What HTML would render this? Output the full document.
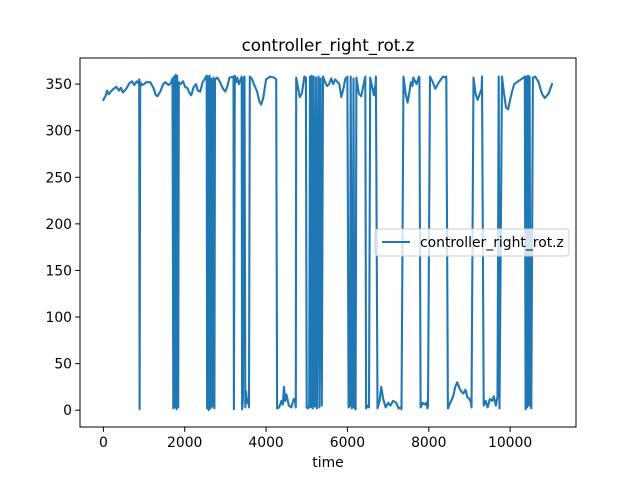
<!DOCTYPE html>
<html><head><meta charset="utf-8"><style>
body{margin:0;background:#fff;font-family:"Liberation Sans","DejaVu Sans",sans-serif;}
svg text{font-family:"DejaVu Sans","Liberation Sans",sans-serif;}
</style></head><body>
<svg id="chart" width="640" height="480" xmlns="http://www.w3.org/2000/svg">
<rect width="640" height="480" fill="#fff"/>
<text x="328" y="51" font-size="16.7" text-anchor="middle">controller_right_rot.z</text>
<g id="plot"></g>
<rect x="80" y="58" width="496" height="369" fill="none" stroke="#000" stroke-width="1"/>
<g id="xt"></g><g id="yt"></g>
<text x="328" y="467" font-size="13.9" text-anchor="middle">time</text>
<g>
<rect x="375" y="229" width="194" height="27" rx="3" fill="#fff" fill-opacity="0.8" stroke="#ccc"/>
<line x1="382" y1="242" x2="410" y2="242" stroke="#1f77b4" stroke-width="2.1"/>
<text x="420" y="247" font-size="13.9">controller_right_rot.z</text>
</g>
</svg>
<script>
const times=[0,60,90,130,180,250,320,380,430,480,560,640,700,760,820,860,880,890,905,950,1000,1050,1150,1230,1290,1330,1400,1470,1520,1600,1660,1700,1720,1735,1760,1775,1800,1815,1840,1855,1900,1960,2010,2060,2110,2160,2220,2280,2320,2380,2440,2500,2540,2550,2565,2590,2610,2635,2650,2680,2695,2710,2730,2745,2800,2870,2940,3000,3050,3100,3200,3210,3230,3260,3290,3330,3400,3410,3430,3450,3470,3490,3510,3530,3560,3580,3600,3650,3700,3780,3830,3880,3930,4000,4100,4200,4250,4270,4320,4380,4410,4440,4470,4500,4560,4620,4680,4710,4730,4740,4790,4830,4880,4940,4980,5000,5030,5060,5080,5100,5120,5150,5170,5200,5230,5250,5290,5310,5340,5370,5400,5450,5500,5550,5600,5650,5700,5800,5850,5900,5950,6000,6030,6060,6080,6110,6130,6150,6170,6200,6220,6280,6340,6400,6440,6460,6500,6530,6560,6620,6650,6690,6700,6740,6790,6830,6880,6940,7000,7060,7120,7200,7260,7320,7330,7380,7430,7480,7520,7560,7600,7620,7700,7760,7770,7800,7850,7900,7940,7970,7980,8030,8100,8160,8250,8350,8420,8430,8470,8530,8600,8650,8700,8750,8800,8850,8900,8950,9000,9040,9050,9100,9150,9200,9300,9310,9350,9400,9450,9500,9560,9600,9650,9680,9690,9720,9740,9800,9850,9900,9950,10000,10050,10100,10200,10330,10360,10380,10400,10420,10440,10460,10480,10500,10520,10560,10620,10700,10780,10850,10950,11030];
const values=[333,338,343,339,342,345,347,343,346,341,345,351,353,349,353,351,355,1,352,349,350,352,352,346,338,337,342,350,352,349,351,356,2,358,3,360,1,359,3,352,350,353,347,346,341,338,347,350,343,342,352,356,359,2,358,0,359,2,356,4,350,357,2,355,357,352,345,342,348,357,358,1,359,352,357,350,358,1,10,356,358,3,20,8,12,3,358,356,350,342,332,328,335,355,358,357,355,2,3,10,6,25,10,17,5,3,12,10,3,357,345,336,340,358,357,3,2,5,358,3,359,2,358,4,357,2,358,3,356,5,358,352,348,350,356,350,355,350,336,345,356,358,3,5,358,2,8,356,3,1,357,340,337,350,358,2,5,3,357,345,338,350,358,2,10,25,12,3,8,5,10,8,2,3,1,358,340,330,340,352,348,357,350,358,357,3,8,6,8,2,5,358,352,345,352,358,357,358,2,8,15,25,30,24,20,18,22,14,12,8,3,357,340,333,345,358,5,10,3,12,10,15,5,12,14,358,2,358,340,325,323,333,342,350,353,357,358,1,358,3,359,5,358,8,2,357,358,352,340,335,340,350,355];
const xTicks=[0,2000,4000,6000,8000,10000];
const yTicks=[0,50,100,150,200,250,300,350];
const xMin=-575,xMax=11620,yMin=-18,yMax=378;
const L=80,R=576,T=58,B=427;
const sx=t=>L+(t-xMin)/(xMax-xMin)*(R-L);
const sy=v=>B-(v-yMin)/(yMax-yMin)*(B-T);
const NS="http://www.w3.org/2000/svg";
const plot=document.getElementById('plot');
let d='';
for(let i=0;i<times.length;i++){d+=(i?'L':'M')+sx(times[i]).toFixed(1)+' '+sy(values[i]).toFixed(1);}
const p=document.createElementNS(NS,'path');
p.setAttribute('d',d);p.setAttribute('fill','none');p.setAttribute('stroke','#1f77b4');p.setAttribute('stroke-width','2.1');p.setAttribute('stroke-linejoin','round');p.setAttribute('stroke-linecap','square');


plot.appendChild(p);
const xt=document.getElementById('xt');
xTicks.forEach(t=>{const x=sx(t);
const l=document.createElementNS(NS,'line');l.setAttribute('x1',x);l.setAttribute('x2',x);l.setAttribute('y1',B);l.setAttribute('y2',B+4.9);l.setAttribute('stroke','#000');


xt.appendChild(l);
const tx=document.createElementNS(NS,'text');tx.setAttribute('x',x);tx.setAttribute('y',B+20);tx.setAttribute('font-size','13.9');tx.setAttribute('text-anchor','middle');tx.textContent=t;


xt.appendChild(tx);});
const yt=document.getElementById('yt');
yTicks.forEach(v=>{const y=sy(v);
const l=document.createElementNS(NS,'line');l.setAttribute('x1',L-4.9);l.setAttribute('x2',L);l.setAttribute('y1',y);l.setAttribute('y2',y);l.setAttribute('stroke','#000');


yt.appendChild(l);
const tx=document.createElementNS(NS,'text');tx.setAttribute('x',L-8);tx.setAttribute('y',y+5);tx.setAttribute('font-size','13.9');tx.setAttribute('text-anchor','end');tx.textContent=v;


yt.appendChild(tx);});
</script>
</body></html>
